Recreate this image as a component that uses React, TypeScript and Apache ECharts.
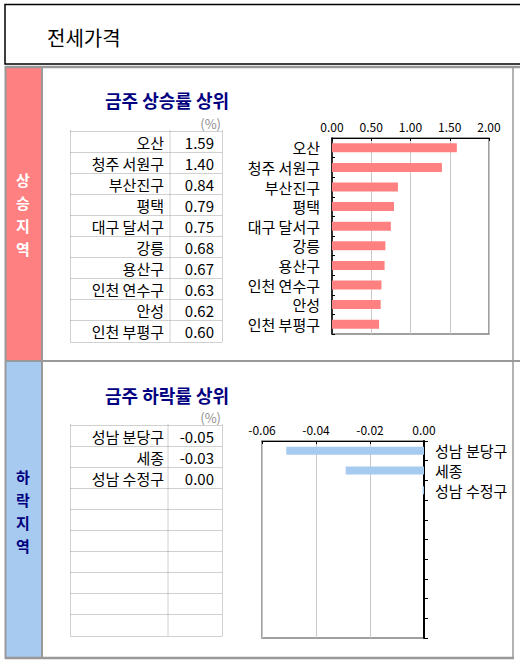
import * as echarts from 'echarts';
import { useEffect, useRef } from 'react';

const riseNames = ['오산', '청주 서원구', '부산진구', '평택', '대구 달서구', '강릉', '용산구', '인천 연수구', '안성', '인천 부평구'];
const riseValues = [1.59, 1.4, 0.84, 0.79, 0.75, 0.68, 0.67, 0.63, 0.62, 0.6];
const fallNames = ['성남 분당구', '세종', '성남 수정구'];
const fallValues = [-0.051, -0.029, -0.0005];
const riseTicks = [0, 2, 0.5];
const fallTicks = [-0.06, 0, 0.02];

const ROWS = 10;
const FONT = '"Noto Sans CJK KR", "Noto Sans", sans-serif';
const GRAY = '#999999';
const fmt = (v: number) => (Math.abs(v) < 0.005 ? 0 : v).toFixed(2);

// 표 하나 (점선 칸 + 지역명/값)
function tableGraphic(top: number, divX: number, names: string[], values: number[]) {
  const left = 70.5;
  const right = 222.5;
  const rowH = 21.1;
  const dash = { stroke: '#a0a0a0', lineWidth: 1, lineDash: [1, 1] };
  const els: any[] = [];
  for (let i = 0; i <= ROWS; i++) {
    const y = Math.round(top + i * rowH) + 0.5;
    els.push({ type: 'line', shape: { x1: left, y1: y, x2: right, y2: y }, style: dash, silent: true });
  }
  const bottom = Math.round(top + ROWS * rowH) + 0.5;
  [left, divX, right].forEach((x) =>
    els.push({ type: 'line', shape: { x1: x, y1: top, x2: x, y2: bottom }, style: dash, silent: true }),
  );
  names.forEach((name, i) => {
    const cy = top + (i + 0.5) * rowH + 1;
    els.push({
      type: 'text', x: 164, y: cy,
      style: { text: name, fill: '#000', font: `15px ${FONT}`, textAlign: 'right', textVerticalAlign: 'middle' },
    });
    els.push({
      type: 'text', x: 214, y: cy,
      style: { text: fmt(values[i]), fill: '#000', font: `15px ${FONT}`, textAlign: 'right', textVerticalAlign: 'middle' },
    });
  });
  return els;
}

// 세로 글자 (한 글자씩)
function sideLabel(text: string, cy: number, color: string) {
  const chars = text.split('');
  return chars.map((ch, k) => ({
    type: 'text', x: 23, y: cy + (k - (chars.length - 1) / 2) * 23,
    style: { text: ch, fill: color, font: `bold 15px ${FONT}`, textAlign: 'center', textVerticalAlign: 'middle' },
  }));
}

export default function App() {
  const container = useRef<HTMLDivElement | null>(null);

  useEffect(() => {
    if (!container.current) return;
    const chart = echarts.init(container.current, undefined, { renderer: 'svg' });

    const line = (x1: number, y1: number, x2: number, y2: number, w: number) => ({
      type: 'line', silent: true, shape: { x1, y1, x2, y2 }, style: { stroke: GRAY, lineWidth: w },
    });
    const title = (text: string, y: number) => ({
      type: 'text', x: 105, y,
      style: { text, fill: '#000080', font: `bold 18px ${FONT}`, textVerticalAlign: 'middle' },
    });
    const pct = (y: number) => ({
      type: 'text', x: 221, y,
      style: { text: '(%)', fill: '#909090', font: `13px ${FONT}`, textAlign: 'right', textVerticalAlign: 'middle' },
    });

    const catAxisLabels = (i: number) => fallNames[i] ?? '';

    chart.setOption({
      animation: false,
      backgroundColor: '#fff',
      textStyle: { fontFamily: FONT },
      graphic: [
        { type: 'rect', shape: { x: 5, y: 4.5, width: 530, height: 59.5 }, style: { fill: '#fff', stroke: '#000', lineWidth: 1.5 } },
        { type: 'text', x: 47, y: 37, style: { text: '전세가격', fill: '#000', font: `20px ${FONT}`, textVerticalAlign: 'middle' } },
        { type: 'rect', shape: { x: 6, y: 68, width: 35, height: 292 }, style: { fill: '#FF8080' } },
        { type: 'rect', shape: { x: 6, y: 362, width: 35, height: 295 }, style: { fill: '#A6CAF0' } },
        line(5, 67, 520, 67, 2.5),
        line(5.5, 66, 5.5, 659, 2),
        line(42, 67, 42, 658, 2),
        line(5, 361, 520, 361, 2),
        line(5, 658, 514, 658, 2.5),
        line(513, 67, 513, 658, 1.5),
        ...sideLabel('상승지역', 214, '#ffffff'),
        ...sideLabel('하락지역', 511, '#000080'),
        title('금주 상승률 상위', 100),
        pct(123),
        title('금주 하락률 상위', 395),
        pct(417),
        ...tableGraphic(130.5, 170, riseNames, riseValues),
        ...tableGraphic(424.5, 168, fallNames, fallValues),
      ],
      grid: [
        { left: 332, top: 138, width: 157, height: 196, show: true, borderColor: '#808080', borderWidth: 1.5, backgroundColor: '#fff' },
        { left: 262, top: 441, width: 162, height: 197, show: true, borderColor: '#808080', borderWidth: 1.5, backgroundColor: '#fff' },
      ],
      xAxis: [
        {
          gridIndex: 0, type: 'value', position: 'top',
          min: riseTicks[0], max: riseTicks[1], interval: riseTicks[2],
          axisLine: { show: true, lineStyle: { color: '#000', width: 1 } },
          axisTick: { show: true, inside: true, length: 3, lineStyle: { color: '#000' } },
          splitLine: { show: true, lineStyle: { color: '#c8c8c8' } },
          axisLabel: { fontSize: 12, color: '#000', margin: 6, formatter: (v: number) => v.toFixed(2) },
        },
        {
          gridIndex: 1, type: 'value', position: 'top',
          min: fallTicks[0], max: fallTicks[1], interval: fallTicks[2],
          axisLine: { show: true, lineStyle: { color: '#000', width: 1 } },
          axisTick: { show: true, inside: true, length: 3, lineStyle: { color: '#000' } },
          splitLine: { show: true, lineStyle: { color: '#c8c8c8' } },
          axisLabel: { fontSize: 12, color: '#000', margin: 6, formatter: (v: number) => v.toFixed(2) },
        },
      ],
      yAxis: [
        {
          gridIndex: 0, type: 'category', inverse: true, data: riseNames,
          axisLine: { show: true, lineStyle: { color: '#000', width: 1.5 } },
          axisTick: { show: true, inside: true, length: 3, lineStyle: { color: '#000' } },
          axisLabel: { fontSize: 15, color: '#000', margin: 12 },
        },
        {
          gridIndex: 1, type: 'category', inverse: true, position: 'right',
          data: Array.from({ length: ROWS }, (_, i) => String(i)),
          axisLine: { show: true, lineStyle: { color: '#000', width: 2 } },
          axisTick: { show: true, inside: false, length: 4, lineStyle: { color: '#000' } },
          axisLabel: { fontSize: 15, color: '#000', margin: 11, formatter: (_v: string, i: number) => catAxisLabels(i) },
        },
      ],
      series: [
        {
          type: 'bar', xAxisIndex: 0, yAxisIndex: 0, data: riseValues, barWidth: 9,
          itemStyle: { color: '#FF8080' }, silent: true,
        },
        {
          type: 'bar', xAxisIndex: 1, yAxisIndex: 1, data: fallValues, barWidth: 8,
          itemStyle: { color: '#A6CAF0' }, silent: true,
        },
      ],
    } as echarts.EChartsOption);

    return () => {
      chart.dispose();
    };
  }, []);

  return (
    <div
      ref={container}
      style={{ position: 'fixed', left: 0, top: 0, width: '520px', height: '664px', background: '#fff' }}
    />
  );
}
